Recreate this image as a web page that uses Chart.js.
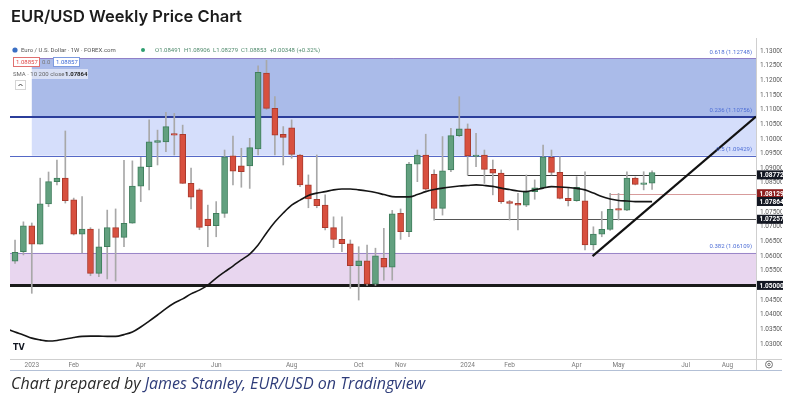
<!DOCTYPE html>
<html>
<head>
<meta charset="utf-8">
<script src="https://cdn.jsdelivr.net/npm/chart.js@4.4.1/dist/chart.umd.min.js"></script>
<style>
html, body { margin: 0; padding: 0; background: #fff; width: 790px; height: 397px; overflow: hidden; }
#wrap { position: relative; width: 790px; height: 397px; }
#grafico { position: absolute; left: 0; top: 0; }
h1 { position: absolute; left: 11px; top: 6px; margin: 0; font: 600 16.5px Inter, sans-serif; color: #1c1c1c; }
.credito { position: absolute; left: 11px; top: 372px; margin: 0; font: italic 16px "Open Sans", sans-serif; color: #2a2a2a; white-space: nowrap; }
.credito span { color: #2f3d7a; }
</style>
</head>
<body>
<div id="wrap">
  <canvas id="grafico" width="790" height="397"></canvas>
  <h1>EUR/USD Weekly Price Chart</h1>
  <p class="credito">Chart prepared by <span>James Stanley, EUR/USD on Tradingview</span></p>
</div>
<script>
// velas semanales, semana 0 = 19 dic 2022
var opens = [1.0583, 1.0615, 1.0703, 1.0641, 1.0778, 1.0854, 1.0866, 1.0792, 1.0675, 1.0692,
             1.0541, 1.0632, 1.0697, 1.0664, 1.0712, 1.0839, 1.0905, 1.0988, 1.0990, 1.1017,
             1.1016, 1.0848, 1.0826, 1.0726, 1.0704, 1.0746, 1.0942, 1.0908, 1.0908, 1.0966,
             1.1225, 1.1104, 1.1016, 1.1038, 1.0945, 1.0843, 1.0794, 1.0774, 1.0697, 1.0657,
             1.0642, 1.0567, 1.0584, 1.0504, 1.0592, 1.0562, 1.0746, 1.0683, 1.0914, 1.0945,
             1.0879, 1.0763, 1.0894, 1.1011, 1.1034, 1.0940, 1.0945, 1.0896, 1.0883, 1.0786,
             1.0780, 1.0774, 1.0820, 1.0833, 1.0937, 1.0886, 1.0797, 1.0789, 1.0789, 1.0638,
             1.0675, 1.0691, 1.0762, 1.0757, 1.0866, 1.0845, 1.08491];
var highs = [1.0655, 1.0717, 1.0713, 1.0866, 1.0887, 1.0928, 1.1027, 1.0798, 1.0803, 1.0697,
             1.0692, 1.0757, 1.0761, 1.0927, 1.0925, 1.0937, 1.1065, 1.1030, 1.1091, 1.1087,
             1.1047, 1.0900, 1.0830, 1.0774, 1.0786, 1.0962, 1.1010, 1.0968, 1.1002, 1.1249,
             1.1268, 1.1144, 1.1042, 1.1065, 1.0947, 1.0877, 1.0945, 1.0809, 1.0734, 1.0734,
             1.0655, 1.0632, 1.0638, 1.0627, 1.0695, 1.0756, 1.0761, 1.0920, 1.0962, 1.1016,
             1.0894, 1.1008, 1.1036, 1.1144, 1.1051, 1.1019, 1.0962, 1.0928, 1.0894, 1.0790,
             1.0814, 1.0877, 1.0860, 1.0979, 1.0962, 1.0939, 1.0831, 1.0871, 1.0888, 1.0700,
             1.0752, 1.0814, 1.0814, 1.0888, 1.0870, 1.0888, 1.08906];
var lows = [1.0575, 1.0604, 1.0473, 1.0641, 1.0769, 1.0843, 1.0781, 1.0672, 1.0611, 1.0533,
            1.0530, 1.0522, 1.0515, 1.0632, 1.0712, 1.0786, 1.0826, 1.0911, 1.0956, 1.0945,
            1.0848, 1.0761, 1.0690, 1.0632, 1.0666, 1.0732, 1.0843, 1.0835, 1.0831, 1.0945,
            1.1100, 1.0945, 1.0911, 1.0934, 1.0837, 1.0765, 1.0765, 1.0689, 1.0629, 1.0615,
            1.0490, 1.0450, 1.0500, 1.0500, 1.0518, 1.0518, 1.0657, 1.0666, 1.0854, 1.0825,
            1.0723, 1.0740, 1.0888, 1.1008, 1.0877, 1.0905, 1.0848, 1.0809, 1.0780, 1.0723,
            1.0689, 1.0769, 1.0794, 1.0830, 1.0877, 1.0795, 1.0771, 1.0787, 1.0621, 1.0621,
            1.0666, 1.0688, 1.0723, 1.0755, 1.0843, 1.0826, 1.08279];
var closes = [1.0613, 1.0703, 1.0641, 1.0778, 1.0854, 1.0866, 1.0789, 1.0675, 1.0692, 1.0541,
              1.0632, 1.0697, 1.0664, 1.0712, 1.0839, 1.0905, 1.0990, 1.0994, 1.1042, 1.1013,
              1.0848, 1.0801, 1.0698, 1.0704, 1.0746, 1.0939, 1.0890, 1.0888, 1.0970, 1.1227,
              1.1104, 1.1013, 1.1005, 1.0947, 1.0843, 1.0795, 1.0772, 1.0697, 1.0657, 1.0642,
              1.0567, 1.0584, 1.0504, 1.0601, 1.0562, 1.0744, 1.0683, 1.0914, 1.0945, 1.0828,
              1.0763, 1.0891, 1.1011, 1.1034, 1.0942, 1.0945, 1.0896, 1.0883, 1.0786, 1.0780,
              1.0774, 1.0820, 1.0833, 1.0939, 1.0886, 1.0797, 1.0789, 1.0835, 1.0638, 1.0675,
              1.0691, 1.0760, 1.0757, 1.0866, 1.0845, 1.0846, 1.08853];

// media móvil, empieza una semana antes (semana -1)
var smaValores = [1.0352,
                  1.0341, 1.0331, 1.0320, 1.0314, 1.0310, 1.0312, 1.0317, 1.0322, 1.0326, 1.0327,
                  1.0327, 1.0326, 1.0326, 1.0332, 1.0341, 1.0358, 1.0378, 1.0399, 1.0421, 1.0440,
                  1.0454, 1.0471, 1.0484, 1.0501, 1.0525, 1.0546, 1.0566, 1.0587, 1.0607, 1.0638,
                  1.0679, 1.0716, 1.0747, 1.0774, 1.0791, 1.0807, 1.0815, 1.0820, 1.0826, 1.0829,
                  1.0829, 1.0826, 1.0822, 1.0817, 1.0810, 1.0803, 1.0802, 1.0802, 1.0810, 1.0820,
                  1.0827, 1.0832, 1.0836, 1.0839, 1.0841, 1.0843, 1.0841, 1.0838, 1.0832, 1.0827,
                  1.0822, 1.0820, 1.0826, 1.0832, 1.0837, 1.0836, 1.0834, 1.0831, 1.0826, 1.0815,
                  1.0803, 1.0795, 1.0790, 1.0788, 1.0786, 1.0786, 1.0786];
var smaUltimo = 1.07864;

var mesesLabels = ['2023', 'Feb', 'Apr', 'Jun', 'Aug', 'Oct', 'Nov', '2024', 'Feb', 'Apr', 'May', 'Jul', 'Aug'];
var mesesSemana = [2, 7, 15, 24, 33, 41, 46, 54, 59, 67, 72, 80, 85];

var precioTicks = [1.030, 1.035, 1.040, 1.045, 1.050, 1.055, 1.060, 1.065, 1.070, 1.075, 1.080,
                   1.085, 1.090, 1.095, 1.100, 1.105, 1.110, 1.115, 1.120, 1.125, 1.130];

// fibonacci
var fibPrecios = [1.12748, 1.10756, 1.09429, 1.06109];
var fibNombres = ['0.618', '0.236', '0.5', '0.382'];
var zonaDesde = 2; // semana donde empiezan las zonas azules

// soportes / resistencias
var nivelesPrecio = [1.08772, 1.08129, 1.07257, 1.05000];
var nivelesDesde = [54, 71, 50, -1];

var tendenciaSemanas = [68.9, 88.4];
var tendenciaPrecios = [1.0600, 1.1076];

var semanas = opens.map(function (o, i) { return i; });
var subeVela = closes.map(function (c, i) { return c >= opens[i]; });

var mechas = semanas.map(function (i) { return {x: i, y: [lows[i], highs[i]]}; });
var cuerpos = semanas.map(function (i) { return {x: i, y: [opens[i], closes[i]]}; });
var smaPuntos = smaValores.map(function (v, i) { return {x: i - 1, y: v}; });
var tendencia = tendenciaSemanas.map(function (s, i) { return {x: s, y: tendenciaPrecios[i]}; });

Chart.defaults.font.family = 'Roboto';

var zonas = {
    id: 'zonas',
    beforeDatasetsDraw: function (chart) {
        var ctx = chart.ctx, a = chart.chartArea, x = chart.scales.x, y = chart.scales.y;
        var xz = x.getPixelForValue(zonaDesde);
        ctx.save();
        ctx.beginPath();
        ctx.rect(a.left, a.top, a.right - a.left, a.bottom - a.top);
        ctx.clip();

        ctx.fillStyle = '#aabbe9';
        ctx.fillRect(xz, y.getPixelForValue(fibPrecios[0]), a.right - xz, y.getPixelForValue(fibPrecios[1]) - y.getPixelForValue(fibPrecios[0]));
        ctx.fillStyle = '#d5defb';
        ctx.fillRect(xz, y.getPixelForValue(fibPrecios[1]), a.right - xz, y.getPixelForValue(fibPrecios[2]) - y.getPixelForValue(fibPrecios[1]));
        ctx.fillStyle = '#e8d6ef';
        ctx.fillRect(a.left, y.getPixelForValue(fibPrecios[3]), a.right - a.left, y.getPixelForValue(nivelesPrecio[3]) - y.getPixelForValue(fibPrecios[3]));

        function linea(precio, desde, color, ancho) {
            var py = Math.round(y.getPixelForValue(precio)) + (ancho % 2 ? 0.5 : 0);
            ctx.strokeStyle = color;
            ctx.lineWidth = ancho;
            ctx.beginPath();
            ctx.moveTo(desde, py);
            ctx.lineTo(a.right, py);
            ctx.stroke();
        }
        linea(fibPrecios[0], xz, '#9080c8', 1);
        linea(fibPrecios[1], a.left, '#2b3d9a', 2);
        linea(fibPrecios[2], a.left, '#5568c6', 1);
        linea(fibPrecios[3], a.left, '#9a86c8', 1);
        linea(nivelesPrecio[0], x.getPixelForValue(nivelesDesde[0]), '#3a3a3a', 1);
        linea(nivelesPrecio[1], x.getPixelForValue(nivelesDesde[1]), '#d79b9b', 1);
        linea(nivelesPrecio[2], x.getPixelForValue(nivelesDesde[2]), '#555555', 1);
        linea(nivelesPrecio[3], a.left, '#1a1a1a', 3);
        ctx.restore();
    },
    afterDraw: function (chart) {
        var ctx = chart.ctx, a = chart.chartArea, y = chart.scales.y;
        ctx.save();

        // marco
        ctx.strokeStyle = '#cfcfcf';
        ctx.lineWidth = 1;
        ctx.beginPath();
        ctx.moveTo(a.left, a.bottom + 0.5); ctx.lineTo(782, a.bottom + 0.5);
        ctx.moveTo(a.right + 0.5, a.top - 4); ctx.lineTo(a.right + 0.5, 370);
        ctx.stroke();
        ctx.strokeStyle = '#b3c0d6';
        ctx.beginPath();
        ctx.moveTo(a.left, 370.5); ctx.lineTo(782, 370.5);
        ctx.stroke();

        // etiquetas fibonacci
        ctx.font = '6px Roboto';
        ctx.fillStyle = '#4f6fd6';
        ctx.textAlign = 'right';
        ctx.textBaseline = 'middle';
        fibPrecios.forEach(function (p, i) {
            ctx.fillText(fibNombres[i] + ' (' + p.toFixed(5) + ')', a.right - 4, y.getPixelForValue(p) - 6);
        });

        // cajas de precio en el eje
        var cajas = [nivelesPrecio[0], nivelesPrecio[1], smaUltimo, nivelesPrecio[2], nivelesPrecio[3]];
        var colores = ['#131722', '#8e1f1f', '#131722', '#131722', '#131722'];
        ctx.font = 'bold 6.5px Roboto';
        ctx.textAlign = 'left';
        cajas.forEach(function (p, i) {
            var py = y.getPixelForValue(p);
            ctx.fillStyle = colores[i];
            ctx.fillRect(a.right + 1, py - 4.5, 26, 9);
            ctx.fillStyle = '#fff';
            ctx.fillText(p.toFixed(5), a.right + 3.5, py + 0.5);
        });

        // leyenda superior
        ctx.textAlign = 'left';
        ctx.font = '6px Roboto';
        ctx.fillStyle = '#3a6fc4';
        ctx.beginPath(); ctx.arc(15, 50, 2.6, 0, Math.PI * 2); ctx.fill();
        ctx.fillStyle = '#555';
        ctx.fillText('Euro / U.S. Dollar · 1W · FOREX.com', 21, 50.5);
        ctx.fillStyle = '#2e9e6f';
        ctx.beginPath(); ctx.arc(143, 50, 2, 0, Math.PI * 2); ctx.fill();
        ctx.fillStyle = '#4f8a6c';
        ctx.fillText('O1.08491  H1.08906  L1.08279  C1.08853  +0.00348 (+0.32%)', 155, 50.5);

        ctx.fillStyle = '#fff';
        ctx.fillRect(13, 57.5, 27, 9);
        ctx.fillRect(53, 57.5, 27, 9);
        ctx.strokeStyle = '#e07070';
        ctx.strokeRect(13.5, 57.5, 26, 9);
        ctx.strokeStyle = '#7d9be0';
        ctx.strokeRect(53.5, 57.5, 26, 9);
        ctx.fillStyle = '#e04848';
        ctx.fillText('1.08857', 16, 62.5);
        ctx.fillStyle = '#777';
        ctx.fillText('0.0', 42, 62.5);
        ctx.fillStyle = '#3d6ad6';
        ctx.fillText('1.08857', 56, 62.5);

        ctx.fillStyle = 'rgba(255,255,255,0.55)';
        ctx.fillRect(12, 69, 76, 10);
        ctx.fillStyle = '#666';
        ctx.fillText('SMA · 10 200 close', 13, 74.5);
        ctx.fillStyle = '#222';
        ctx.font = 'bold 6px Roboto';
        ctx.fillText(smaUltimo.toFixed(5), 65, 74.5);

        ctx.fillStyle = '#fff';
        ctx.fillRect(15, 80.5, 11, 9);
        ctx.strokeStyle = '#d5d5d5';
        ctx.strokeRect(15.5, 80.5, 10, 9);
        ctx.strokeStyle = '#444';
        ctx.beginPath(); ctx.moveTo(18.5, 86); ctx.lineTo(20.5, 84); ctx.lineTo(22.5, 86); ctx.stroke();

        // logo y engranaje
        ctx.fillStyle = '#131722';
        ctx.font = 'bold 8px "DejaVu Sans"';
        ctx.fillText('TV', 13, 348);
        ctx.strokeStyle = '#777';
        ctx.beginPath(); ctx.arc(769, 364.5, 3.5, 0, Math.PI * 2); ctx.stroke();
        ctx.beginPath(); ctx.arc(769, 364.5, 1.2, 0, Math.PI * 2); ctx.stroke();
        ctx.restore();
    }
};

var ctx = document.getElementById('grafico').getContext('2d');
var chart = new Chart(ctx, {
    type: 'bar',
    data: {
        datasets: [{
                type: 'line',
                data: tendencia,
                borderColor: '#111',
                borderWidth: 2.2,
                pointRadius: 0,
                order: 1
            }, {
                type: 'line',
                data: smaPuntos,
                borderColor: '#151515',
                borderWidth: 1.6,
                pointRadius: 0,
                cubicInterpolationMode: 'monotone',
                order: 2
            }, {
                data: cuerpos,
                grouped: false,
                barThickness: 6,
                minBarLength: 1.5,
                borderWidth: 1,
                borderSkipped: false,
                backgroundColor: subeVela.map(function (s) { return s ? '#62a07f' : '#d8503f'; }),
                borderColor: subeVela.map(function (s) { return s ? '#3f7e5c' : '#a93a2d'; }),
                order: 3
            }, {
                data: mechas,
                grouped: false,
                barThickness: 1,
                backgroundColor: '#a8a8a8',
                order: 4
            }]
    },
    options: {
        responsive: false,
        animation: false,
        layout: {padding: {left: 10, right: 8, top: 42, bottom: 27}},
        plugins: {legend: {display: false}, tooltip: {enabled: false}},
        scales: {
            x: {
                type: 'linear',
                min: -0.6,
                max: 88.4,
                offset: false,
                grid: {display: false, drawTicks: false, offset: false},
                border: {display: false},
                afterBuildTicks: function (s) { s.ticks = mesesSemana.map(function (v) { return {value: v}; }); },
                afterFit: function (s) { s.height = 11; },
                ticks: {
                    autoSkip: false,
                    maxRotation: 0,
                    padding: 2,
                    color: '#7a7a7a',
                    font: {size: 6.5},
                    callback: function (v) {
                        var k = mesesSemana.indexOf(v);
                        return k < 0 ? '' : mesesLabels[k];
                    }
                }
            },
            y: {
                position: 'right',
                min: 1.02488,
                max: 1.13307,
                grid: {display: false, drawTicks: false},
                border: {display: false},
                afterBuildTicks: function (s) { s.ticks = precioTicks.map(function (v) { return {value: v}; }); },
                afterFit: function (s) { s.width = 26; },
                ticks: {
                    padding: 4,
                    color: '#5a5a5a',
                    font: {size: 6.5},
                    callback: function (v) { return v.toFixed(5); }
                }
            }
        }
    },
    plugins: [zonas]
});
</script>
</body>
</html>
